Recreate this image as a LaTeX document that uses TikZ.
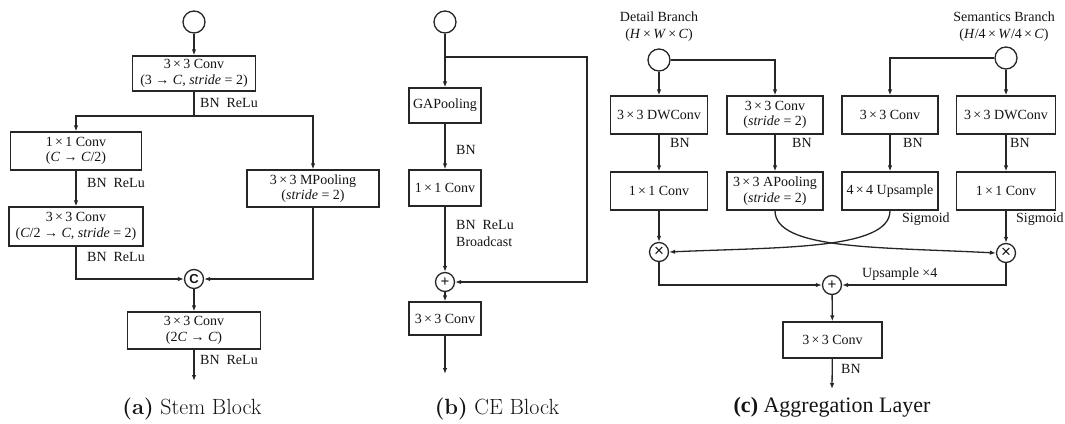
\documentclass[tikz,border=0pt]{standalone}
\usepackage{fontspec}
\setmainfont{Liberation Serif}
\newfontfamily\capfont{Latin Modern Roman}
\newfontfamily\opfont{Liberation Sans}
\usetikzlibrary{arrows.meta}

\newcommand{\tx}{\,×\,}

\begin{document}
\begin{tikzpicture}[x=1pt,y=-1pt,
  ink/.style={line width=1.3pt, draw=black!85},
  arr/.style={ink, -{Latex[length=6pt,width=4.5pt]}},
  blk/.style={draw=black!85, line width=1.3pt, rectangle, align=center, inner sep=0pt,
              font=\fontsize{14}{15.5}\selectfont, text=black!92},
  src/.style={draw=black!85, line width=1.3pt, circle, minimum size=22pt, inner sep=0pt},
  op/.style={draw=black!85, line width=1.3pt, circle, minimum size=19pt, inner sep=0pt,
             font=\opfont\fontsize{15}{15}\selectfont, text=black!92},
  lbl/.style={anchor=west, inner sep=0pt, font=\fontsize{14}{17}\selectfont, align=left, text=black!92},
  captext/.style={inner sep=0pt, font=\fontsize{22}{24}\selectfont, text=black!92},
  caplm/.style={inner sep=0pt, font=\capfont\fontsize{22}{24}\selectfont, text=black!92}
]
\useasboundingbox (0,0) rectangle (1065,423);

% ---------------- (a) Stem Block ----------------
\node[src] (ina) at (194,22) {};
\node[blk, minimum width=123pt, minimum height=35pt] (a1) at (194,73.5)
  {3\tx3 Conv\\(3 → \textit{C}, \textit{stride} = 2)};
\coordinate (ja) at (194,116);
\node[blk, minimum width=131pt, minimum height=38pt] (a2) at (76,151)
  {1\tx1 Conv\\(\textit{C} → \textit{C}/2)};
\node[blk, minimum width=134pt, minimum height=39pt] (a3) at (76,226.5)
  {3\tx3 Conv\\(\textit{C}/2 → \textit{C}, \textit{stride} = 2)};
\node[blk, minimum width=132pt, minimum height=37pt] (mp) at (313,188.5)
  {3\tx3 MPooling\\(\textit{stride} = 2)};
\node[op, font=\opfont\bfseries\fontsize{13}{13}\selectfont] (cat) at (194,279) {C};
\node[blk, minimum width=133pt, minimum height=37pt] (a4) at (194,330.5)
  {3\tx3 Conv\\(2\textit{C} → \textit{C})};
\coordinate (outa) at (194,381);

\draw[arr] (ina) -- (a1);
\draw[ink] (a1) -- (ja);
\draw[arr] (ja) -| (a2);
\draw[arr] (ja) -| (mp);
\draw[arr] (a2) -- (a3);
\draw[arr] (a3) |- (cat);
\draw[arr] (mp) |- (cat);
\draw[arr] (cat) -- (a4);
\draw[arr] (a4) -- (outa);

\node[lbl] (la1) at (200,103) {BN\ \ ReLu};
\node[lbl] (la2) at (87,183) {BN\ \ ReLu};
\node[lbl] (la3) at (87,257) {BN\ \ ReLu};
\node[lbl] (la4) at (200,360) {BN\ \ ReLu};

\node[caplm] (capa) at (192,409) {\textbf{(a)} Stem Block};

% ---------------- (b) CE Block ----------------
\node[src] (inb) at (445,22) {};
\coordinate (jb) at (445,57);
\node[blk, minimum width=72pt, minimum height=35pt] (gap) at (445,105.5) {GAPooling};
\node[blk, minimum width=72pt, minimum height=36pt] (cb1) at (445,188) {1\tx1 Conv};
\node[op] (plb) at (445,282) {+};
\node[blk, minimum width=72pt, minimum height=33pt] (cb3) at (445,318.5) {3\tx3 Conv};
\coordinate (outb) at (445,374);
\coordinate (rb) at (587,282);

\draw[arr] (inb) -- (gap);
\draw[arr] (jb) -| (rb) -- (plb);
\draw[arr] (gap) -- (cb1);
\draw[arr] (cb1) -- (plb);
\draw[arr] (plb) -- (cb3);
\draw[arr] (cb3) -- (outb);

\node[lbl] (lb1) at (456,150) {BN};
\node[lbl] (lb2) at (456,233) {BN\ \ ReLu\\Broadcast};

\node[caplm] (capb) at (497,409) {\textbf{(b)} CE Block};

% ---------------- (c) Aggregation Layer ----------------
\node[lbl, anchor=center, align=center] (tdet) at (659,27) {Detail Branch\\(\textit{H}\tx\textit{W}\tx\textit{C})};
\node[lbl, anchor=center, align=center] (tsem) at (1004,27) {Semantics Branch\\(\textit{H}/4\tx\textit{W}/4\tx\textit{C})};

\node[src] (ind) at (659,60) {};
\node[src] (ins) at (1006,58) {};

\node[blk, minimum width=97pt, minimum height=38pt] (dwd) at (659,115) {3\tx3 DWConv};
\node[blk, minimum width=96pt, minimum height=38pt] (csd) at (775,115) {3\tx3 Conv\\(\textit{stride} = 2)};
\node[blk, minimum width=96pt, minimum height=38pt] (css) at (890,115) {3\tx3 Conv};
\node[blk, minimum width=99pt, minimum height=38pt] (dws) at (1006,115) {3\tx3 DWConv};

\node[blk, minimum width=97pt, minimum height=38pt] (c1d) at (659,191) {1\tx1 Conv};
\node[blk, minimum width=96pt, minimum height=38pt] (apd) at (775,191) {3\tx3 APooling\\(\textit{stride} = 2)};
\node[blk, minimum width=96pt, minimum height=38pt] (ups) at (890,191) {4\tx4 Upsample};
\node[blk, minimum width=99pt, minimum height=38pt] (c1s) at (1006,191) {1\tx1 Conv};

\node[op, font=\opfont\fontsize{17}{17}\selectfont] (mull) at (659,252) {×};
\node[op, font=\opfont\fontsize{17}{17}\selectfont] (mulr) at (1006,253) {×};
\node[op] (plc) at (832,285) {+};
\node[blk, minimum width=99pt, minimum height=36pt] (c3c) at (832.5,340) {3\tx3 Conv};
\coordinate (outc) at (832,389);

\draw[arr] (ind) -- (dwd);
\draw[arr] (ind) -| (csd);
\draw[arr] (ins) -- (dws);
\draw[arr] (ins) -| (css);
\draw[arr] (dwd) -- (c1d);
\draw[arr] (csd) -- (apd);
\draw[arr] (css) -- (ups);
\draw[arr] (dws) -- (c1s);
\draw[arr] (c1d) -- (mull);
\draw[arr] (c1s) -- (mulr);
\draw[arr] (apd.south) .. controls (775,250) and (880,247) .. (mulr.west);
\draw[arr] (ups.south) .. controls (890,250) and (780,247) .. (mull.east);
\draw[arr] (mull) |- (plc);
\draw[arr] (mulr) |- (plc);
\draw[arr] (plc) -- (c3c);
\draw[arr] (c3c) -- (outc);

\node[lbl] (lc1) at (670,143) {BN};
\node[lbl] (lc2) at (792,143) {BN};
\node[lbl] (lc3) at (903,143) {BN};
\node[lbl] (lc4) at (1010,143) {BN};
\node[lbl] (lc5) at (902,219) {Sigmoid};
\node[lbl] (lc6) at (1016,219) {Sigmoid};
\node[lbl] (lc7) at (862,274) {Upsample ×4};
\node[lbl] (lc8) at (841,369) {BN};

\node[captext] (capc) at (832,407) {\textbf{(c)} Aggregation Layer};
\end{tikzpicture}
\end{document}
